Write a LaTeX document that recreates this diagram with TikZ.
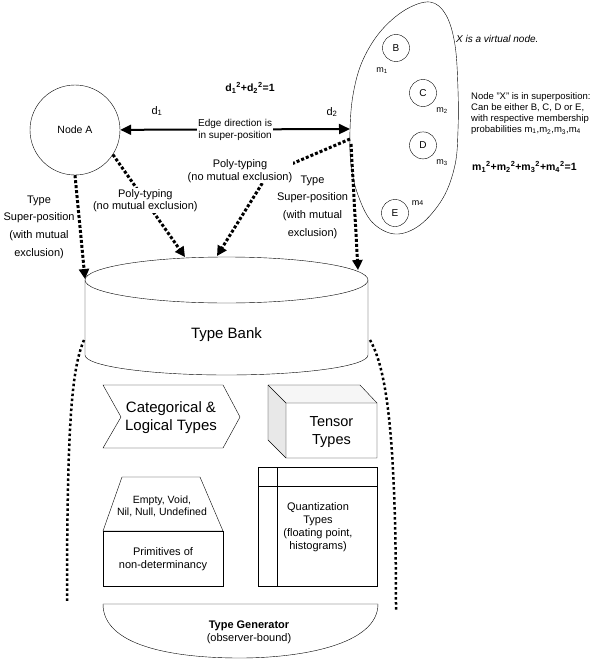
\documentclass[tikz,border=0pt]{standalone}
\usepackage{fontspec}
\setmainfont{Liberation Sans}
\usetikzlibrary{
	arrows.meta,
	positioning,
	calc
}

\begin{document}
\begin{tikzpicture}[x=1pt, y=1pt, node distance=25pt,
        lbl/.style={align=center, inner sep=1pt, font=\fontsize{10}{12}\selectfont},
        polylbl/.style={lbl, fill=white, font=\fontsize{11}{12.5}\selectfont},
        typelbl/.style={lbl, font=\fontsize{11}{17.7}\selectfont},
        bigtxt/.style={lbl, font=\fontsize{15}{18}\selectfont},
        boxtxt/.style={lbl, font=\fontsize{11}{12.5}\selectfont},
        mcirc/.style={draw, circle, minimum size=27pt, inner sep=0pt, font=\fontsize{10}{12}\selectfont},
        mlbl/.style={inner sep=0pt, font=\fontsize{9}{10}\selectfont},
        biarrow/.style={line width=2pt, {Triangle[length=11pt,width=10pt]}-{Triangle[length=11pt,width=10pt]}},
        dotarrow/.style={line width=3pt, dash pattern=on 3pt off 2pt, -{Triangle[length=10pt,width=10pt]}},
        dotline/.style={line width=2.5pt, dash pattern=on 2.5pt off 2.5pt}]
        \useasboundingbox (0,0) rectangle (603,-661);

        % node A and the virtual node X
        \node[draw, circle, minimum size=90pt, font=\fontsize{10.5}{12}\selectfont] (A) at (75,-130) {Node A};
        \draw plot[smooth cycle, tension=0.6] coordinates {(350,-130) (353,-95) (362,-62) (380,-32) (405,-10) (430,-2) (446,-15) (455,-45) (458,-90) (458,-130) (455,-165) (443,-198) (420,-225) (395,-234) (372,-222) (358,-195) (351,-165)};
        \coordinate (Xw) at (350,-129);
        \coordinate (Xd1) at (350,-139);
        \coordinate (Xd2) at (351,-144);

        \node[mcirc] (B) at (396,-48) {B};
        \node[mcirc] (C) at (423,-93) {C};
        \node[mcirc, below=of C] (D) {D};
        \node[mcirc] (E) at (395,-213) {E};
        \node[mlbl, below left=9.5pt and -1.5pt of B] (m1) {m\textsubscript{1}};
        \node[mlbl, below right=4.5pt and 3.5pt of C] (m2) {m\textsubscript{2}};
        \node[mlbl, below right=4.5pt and 3.5pt of D] (m3) {m\textsubscript{3}};
        \node[mlbl, right=3pt of E, yshift=10pt] (m4) {m{\fontsize{7}{8}\selectfont 4}};

        \node[anchor=west, inner sep=0pt, font=\itshape\fontsize{10}{12}\selectfont] (virt) at (456,-39) {X is a virtual node.};
        \node[anchor=west, align=left, inner sep=0pt, font=\fontsize{9.5}{11}\selectfont] (super) at (471,-113.5) {Node "X" is in superposition:\\Can be either B, C, D or E,\\with respective membership\\probabilities m\textsubscript{1},m\textsubscript{2},m\textsubscript{3},m\textsubscript{4}};
        \node[anchor=west, inner sep=0pt, font=\bfseries\fontsize{10.5}{12}\selectfont] (meq) at (472,-167) {m\textsubscript{1}\textsuperscript{2}+m\textsubscript{2}\textsuperscript{2}+m\textsubscript{3}\textsuperscript{2}+m\textsubscript{4}\textsuperscript{2}=1};
        \node[lbl, font=\bfseries\fontsize{10.5}{12}\selectfont] (deq) at (250,-88) {d\textsubscript{1}\textsuperscript{2}+d\textsubscript{2}\textsuperscript{2}=1};

        % type bank
        \draw[fill=white] (85,-280) -- (85,-355) arc[start angle=180, end angle=360, x radius=141.5, y radius=20] -- (368,-280);
        \draw[fill=white] (226.5,-280) ellipse[x radius=141.5, y radius=23];
        \node[bigtxt] (bank) at (226.5,-335) {Type Bank};
        \coordinate (tbW) at (85,-279);
        \coordinate (tb2) at (185,-257);
        \coordinate (tb3) at (217,-256);
        \coordinate (tb4) at (358,-270);
        \coordinate (bend) at (268,-174);

        \draw[dotline] (84,-340) .. controls (72,-368) and (67,-420) .. (67,-602);
        \draw[dotline] (370,-340) .. controls (386,-368) and (396,-430) .. (396,-610);

        % contents of the bank
        \draw (103,-385) -- (223,-385) -- (240,-417) -- (223,-448) -- (103,-448) -- (121,-417) -- cycle;
        \node[bigtxt] (cat) at (171,-418) {Categorical \&\\Logical Types};

        \fill[gray!18] (268,-385) -- (286,-403) -- (286,-458) -- (268,-440) -- cycle;
        \fill[gray!7] (268,-385) -- (360,-385) -- (377,-403) -- (286,-403) -- cycle;
        \draw (268,-385) -- (360,-385) -- (377,-403) -- (377,-458) -- (286,-458) -- (268,-440) -- cycle;
        \draw (268,-385) -- (286,-403) -- (377,-403) (286,-403) -- (286,-458);
        \node[bigtxt, font=\fontsize{14.5}{18}\selectfont] (tensor) at (331.5,-432) {Tensor\\Types};

        \draw (122,-477) -- (200,-477) -- (223,-531) -- (103,-531) -- cycle;
        \node[lbl, font=\fontsize{10.5}{12}\selectfont] (empty) at (162,-506) {Empty, Void,\\Nil, Null, Undefined};
        \draw (103,-531) rectangle (223,-586);
        \node[boxtxt] (prim) at (163,-559) {Primitives of\\non-determinancy};

        \draw (258,-467) rectangle (377,-586);
        \draw (277,-467) -- (277,-586) (258,-486) -- (377,-486);
        \node[lbl, font=\fontsize{11}{13}\selectfont] (quant) at (318,-527.5) {Quantization\\Types\\(floating point,\\histograms)};

        \draw (103,-604) -- (378,-604) .. controls (378,-645) and (300,-658) .. (240,-658) .. controls (170,-658) and (103,-645) .. cycle;
        \node[boxtxt, font=\fontsize{11}{13}\selectfont] (gen) at (249,-632.5) {\textbf{Type Generator}\\(observer-bound)};

        % connectors
        \draw[biarrow] (A) -- node[lbl, fill=white] (edge) {Edge direction is\\in super-position} (Xw);
        \node[lbl, font=\fontsize{11}{12}\selectfont] (d1) at (157,-111) {d\textsubscript{1}};
        \node[lbl, font=\fontsize{11}{12}\selectfont] (d2) at (332,-112) {d\textsubscript{2}};

        \draw[dotarrow] (A.south) -- node[typelbl, left=3pt] (tsp1) {Type\\Super-position\\(with mutual\\exclusion)} (tbW);
        \draw[dotarrow] (A.-33) -- node[polylbl, pos=0.45] (poly1) {Poly-typing\\(no mutual exclusion)} (tb2);
        \draw[dotarrow] (Xd1) -- (bend) -- (tb3) node[polylbl] (poly2) at (240,-171) {Poly-typing\\(no mutual exclusion)};
        \draw[dotarrow] (Xd2) -- node[typelbl, left=4pt] (tsp2) {Type\\Super-position\\(with mutual\\exclusion)} (tb4);
    \end{tikzpicture}
\end{document}
